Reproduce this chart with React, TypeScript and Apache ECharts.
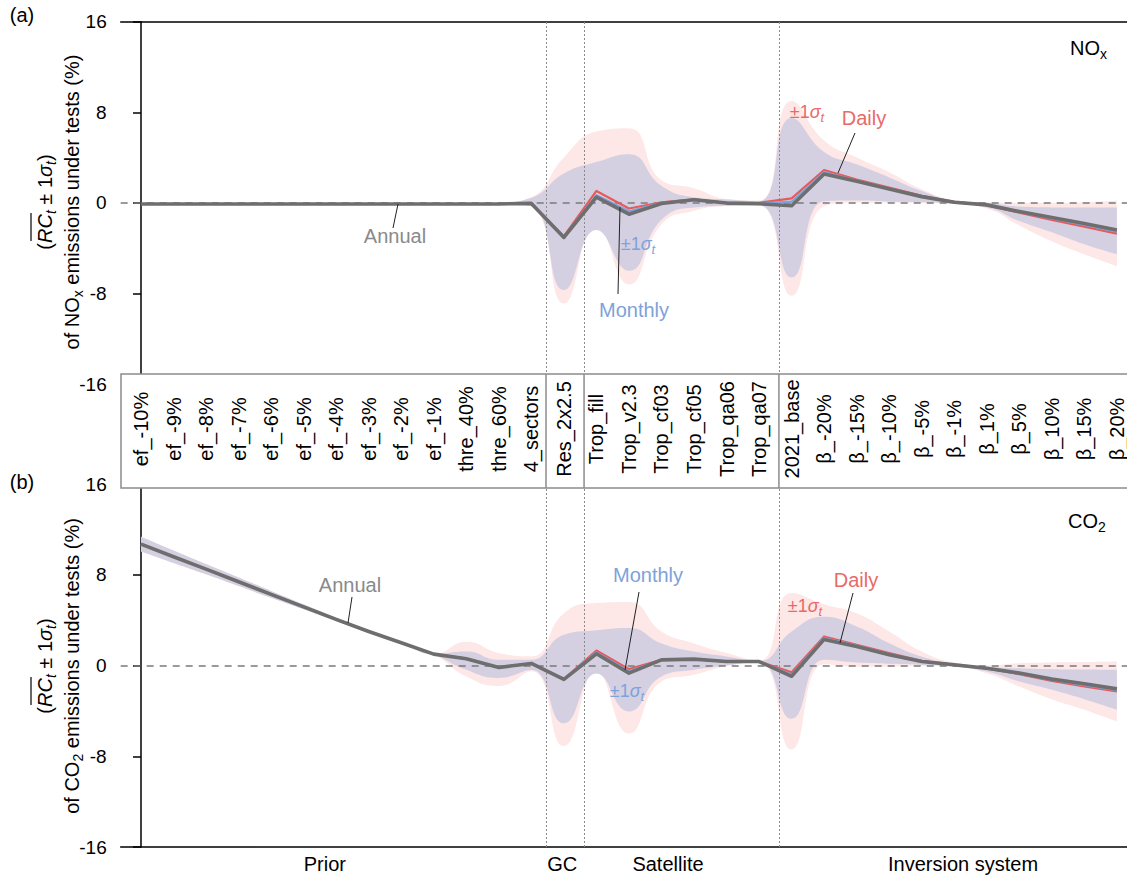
import React, { useEffect, useRef } from "react";
import * as echarts from "echarts";

// ---------------- data ----------------
const CATEGORIES = [
  "ef_-10%", "ef_-9%", "ef_-8%", "ef_-7%", "ef_-6%", "ef_-5%", "ef_-4%", "ef_-3%", "ef_-2%", "ef_-1%",
  "thre_40%", "thre_60%", "4_sectors", "Res_2x2.5", "Trop_fill", "Trop_v2.3", "Trop_cf03", "Trop_cf05",
  "Trop_qa06", "Trop_qa07", "2021_base", "β_-20%", "β_-15%", "β_-10%", "β_-5%", "β_-1%", "β_1%",
  "β_5%", "β_10%", "β_15%", "β_20%",
];
const Y_TICKS = [-16, -8, 0, 8, 16];
const GROUP_LABELS = ["Prior", "GC", "Satellite", "Inversion system"];

// Panel (a) NOx
const NOX_ANNUAL = [-0.1, -0.1, -0.1, -0.1, -0.1, -0.1, -0.1, -0.1, -0.1, -0.1, -0.1, -0.1, -0.05, -3.05, 0.5, -1.0, -0.05, 0.28, -0.02, -0.08, -0.25, 2.55, 1.9, 1.22, 0.55, 0.05, -0.18, -0.77, -1.3, -1.83, -2.39];
const NOX_MONTHLY = [-0.1, -0.1, -0.1, -0.1, -0.1, -0.1, -0.1, -0.1, -0.1, -0.1, -0.1, -0.1, -0.05, -3.0, 0.68, -0.75, 0.0, 0.3, 0.0, -0.05, 0.1, 2.7, 1.97, 1.28, 0.58, 0.06, -0.19, -0.8, -1.38, -1.95, -2.55];
const NOX_DAILY = [-0.1, -0.1, -0.1, -0.1, -0.1, -0.1, -0.1, -0.1, -0.1, -0.1, -0.1, -0.1, -0.05, -2.95, 1.05, -0.5, 0.05, 0.3, 0.0, 0.0, 0.4, 2.9, 2.05, 1.36, 0.62, 0.08, -0.2, -0.86, -1.5, -2.1, -2.72];
const NOX_MONTHLY_HI = [-0.1, -0.1, -0.1, -0.1, -0.1, -0.1, -0.1, -0.1, -0.1, -0.1, -0.1, 0, 0.45, 2.6, 3.6, 4.3, 1.5, 0.5, 0.3, 0.15, 7.5, 4.5, 3.4, 2.25, 1.05, 0.2, 0.0, -0.33, -0.4, -0.4, -0.4];
const NOX_MONTHLY_LO = [-0.1, -0.1, -0.1, -0.1, -0.1, -0.1, -0.1, -0.1, -0.1, -0.1, -0.1, -0.1, -0.3, -7.7, -2.4, -6.0, -1.5, -0.4, -0.25, -0.2, -6.6, 0.15, 0.2, 0.1, 0.05, -0.1, -0.4, -1.6, -2.6, -3.66, -4.55];
const NOX_DAILY_HI = [-0.1, -0.1, -0.1, -0.1, -0.1, -0.1, -0.1, -0.1, -0.1, -0.1, -0.1, 0, 0.5, 4.0, 6.3, 6.6, 2.0, 1.3, 0.35, 0.2, 9.0, 5.5, 4.0, 2.7, 1.2, 0.25, 0.05, 0.0, 0.0, 0.05, 0.18];
const NOX_DAILY_LO = [-0.1, -0.1, -0.1, -0.1, -0.1, -0.1, -0.1, -0.1, -0.1, -0.1, -0.1, -0.1, -0.35, -8.9, -1.9, -7.2, -1.9, -0.7, -0.3, -0.25, -8.2, -0.3, 0.0, 0.0, 0.0, -0.1, -0.5, -2.0, -3.4, -4.55, -5.6];

// Panel (b) CO2
const CO2_ANNUAL = [10.7, 9.59, 8.49, 7.38, 6.27, 5.17, 4.06, 3.0, 2.0, 1.0, 0.6, -0.17, 0.18, -1.22, 1.03, -0.67, 0.5, 0.56, 0.35, 0.35, -0.95, 2.3, 1.68, 0.94, 0.35, 0.06, -0.24, -0.67, -1.2, -1.61, -2.06];
const CO2_MONTHLY = [10.7, 9.59, 8.49, 7.38, 6.27, 5.17, 4.06, 3.0, 2.0, 1.0, 0.6, -0.17, 0.18, -1.2, 1.15, -0.5, 0.5, 0.56, 0.35, 0.35, -0.8, 2.42, 1.75, 1.0, 0.38, 0.06, -0.25, -0.72, -1.28, -1.73, -2.17];
const CO2_DAILY = [10.7, 9.59, 8.49, 7.38, 6.27, 5.17, 4.06, 3.0, 2.0, 1.0, 0.6, -0.17, 0.18, -1.2, 1.32, -0.32, 0.5, 0.56, 0.35, 0.35, -0.6, 2.56, 1.83, 1.09, 0.41, 0.06, -0.26, -0.76, -1.35, -1.85, -2.29];
const CO2_MONTHLY_HI = [11.35, 10.14, 8.94, 7.76, 6.57, 5.39, 4.21, 3.08, 2.03, 1.0, 1.23, 0.5, 0.5, 2.7, 3.1, 3.3, 1.95, 1.23, 0.8, 0.4, 3.0, 4.3, 3.44, 1.97, 0.79, 0.15, -0.1, -0.24, -0.32, -0.35, -0.38];
const CO2_MONTHLY_LO = [10.05, 9.04, 8.04, 7.0, 5.97, 4.95, 3.91, 2.92, 1.97, 1.0, -0.38, -1.1, -0.4, -5.1, -0.7, -4.05, -0.97, -0.38, 0.0, 0.3, -4.7, 0.5, 0.26, 0.15, 0.05, -0.1, -0.53, -1.41, -2.14, -2.97, -3.9];
const CO2_DAILY_HI = [11.35, 10.14, 8.94, 7.76, 6.57, 5.39, 4.21, 3.08, 2.03, 1.0, 2.1, 1.1, 0.8, 4.6, 5.5, 5.6, 3.0, 1.95, 1.1, 0.42, 6.4, 5.4, 4.6, 3.0, 1.23, 0.26, 0.0, 0.2, 0.26, 0.3, 0.35];
const CO2_DAILY_LO = [10.05, 9.04, 8.04, 7.0, 5.97, 4.95, 3.91, 2.92, 1.97, 1.0, -0.97, -1.8, -0.5, -7.1, -0.6, -6.0, -1.4, -0.82, -0.05, 0.3, -7.4, 0.1, -0.1, -0.1, -0.05, -0.1, -0.68, -1.85, -2.97, -3.9, -4.93];

// ---------------- layout / style ----------------
const W = 1127;
const H = 878;
const FONT = '"Liberation Sans", Arial, Helvetica, sans-serif';
const PX = 32.53;
const GRID_LEFT = 120.7;
const FIRST_X = 141;
const X_MIN = -(FIRST_X - GRID_LEFT) / PX;
const GRID_W = W - GRID_LEFT;
const X_MAX = X_MIN + GRID_W / PX;
const SEPARATORS = [12.45, 13.62, 19.61];
const GROUP_CENTERS = [5.65, 12.95, 16.2, 25.27];
const BOX = { x: 121, y: 374, h: 114 };

const C = {
  annual: "#6e6e6e",
  monthly: "#7ea2da",
  daily: "#e85a5a",
  lav: "#d4d0e2",
  pink: "#fde7e7",
  annualTxt: "#8a8a8a",
  monthlyTxt: "#7ea2da",
  dailyTxt: "#e86a6a",
};

const richSet = (fs: number, color: string) => {
  const sub = Math.round(fs * 0.7);
  return {
    n: { fontSize: fs, fontFamily: FONT, fill: color, color, lineHeight: fs + 6 },
    i: { fontSize: fs, fontFamily: FONT, fontStyle: "italic", fill: color, color, lineHeight: fs + 6 },
    s: { fontSize: sub, fontFamily: FONT, fill: color, color, lineHeight: sub - 3, verticalAlign: "bottom" },
    si: { fontSize: sub, fontFamily: FONT, fontStyle: "italic", fill: color, color, lineHeight: sub - 3, verticalAlign: "bottom" },
  };
};

let _ctx: CanvasRenderingContext2D | null = null;
const measure = (t: string, f: string) => {
  if (!_ctx) _ctx = document.createElement("canvas").getContext("2d");
  _ctx!.font = f;
  return _ctx!.measureText(t).width;
};

// band = stacked pair (lower, upper-lower); value column first so it is the stacked one
function bandSeries(ax: number, lo: number[], hi: number[], color: string, key: string, z: number, withMarks: boolean) {
  const common = {
    type: "line",
    xAxisIndex: ax,
    yAxisIndex: ax,
    stack: key,
    stackStrategy: "all",
    encode: { x: 1, y: 0 },
    smooth: 0.5,
    symbol: "none",
    silent: true,
    lineStyle: { width: 0, opacity: 0 },
    z,
  };
  const s2: any = {
    ...common,
    name: key + "_band",
    data: hi.map((v, i) => [+(v - lo[i]).toFixed(4), i]),
    areaStyle: { color, opacity: 1 },
  };
  if (withMarks) {
    s2.markLine = {
      silent: true,
      z: 2.5,
      symbol: ["none", "none"],
      label: { show: false },
      data: [
        { yAxis: 0, lineStyle: { type: [7, 6], color: "#7a7a7a", width: 1.5 } },
        ...SEPARATORS.map((v) => ({ xAxis: v, lineStyle: { type: [2, 2], color: "#8a8a8a", width: 1 } })),
      ],
    };
  }
  return [{ ...common, name: key + "_lo", data: lo.map((v, i) => [v, i]) }, s2];
}

function lineSeries(ax: number, vals: number[], color: string, width: number, z: number, name: string) {
  return {
    type: "line",
    name,
    xAxisIndex: ax,
    yAxisIndex: ax,
    data: vals.map((v, i) => [i, v]),
    symbol: "none",
    silent: true,
    lineStyle: { color, width, join: "round" },
    z,
  };
}

function panel(ax: number, d: any) {
  return [
    ...bandSeries(ax, d.dLo, d.dHi, C.pink, "daily" + ax, 1, false),
    ...bandSeries(ax, d.mLo, d.mHi, C.lav, "monthly" + ax, 2, true),
    lineSeries(ax, d.daily, C.daily, 2.2, 6, "Daily"),
    lineSeries(ax, d.monthly, C.monthly, 2.2, 7, "Monthly"),
    lineSeries(ax, d.annual, C.annual, 3.6, 8, "Annual"),
  ];
}

const yAxisBase = (gi: number) => ({
  type: "value",
  gridIndex: gi,
  min: Y_TICKS[0],
  max: Y_TICKS[Y_TICKS.length - 1],
  interval: 8,
  axisLine: { show: true, lineStyle: { color: "#000", width: 1.5 } },
  axisTick: { show: true, inside: false, length: 8, lineStyle: { color: "#000", width: 1.5 } },
  axisLabel: { fontSize: 19, color: "#000", margin: 14, fontFamily: FONT },
  splitLine: { show: false },
});

const xAxisData = (gi: number, position: string) => ({
  type: "value",
  gridIndex: gi,
  min: X_MIN,
  max: X_MAX,
  position,
  axisLine: { show: true, onZero: false, lineStyle: { color: "#000", width: 1.5 } },
  axisTick: { show: false },
  axisLabel: { show: false },
  splitLine: { show: false },
});

function buildOption() {
  return {
    animation: false,
    backgroundColor: "#fff",
    textStyle: { fontFamily: FONT },
    grid: [
      { left: GRID_LEFT, top: 21.7, width: GRID_W, height: 362.3, show: false, outerBoundsMode: "none" },
      { left: GRID_LEFT, top: 484, width: GRID_W, height: 363, show: false, outerBoundsMode: "none" },
      { left: FIRST_X, top: BOX.y, width: PX * (CATEGORIES.length - 1), height: 55, show: false, outerBoundsMode: "none" },
    ],
    xAxis: [
      xAxisData(0, "top"),
      xAxisData(1, "bottom"),
      {
        type: "category",
        gridIndex: 2,
        data: CATEGORIES,
        boundaryGap: false,
        position: "bottom",
        z: 200,
        axisLine: { show: false },
        axisTick: { show: false },
        axisLabel: {
          interval: 0,
          rotate: 90,
          align: "center",
          verticalAlign: "middle",
          margin: 0,
          fontSize: 20,
          color: "#000",
          fontFamily: FONT,
        },
      },
    ],
    yAxis: [yAxisBase(0), yAxisBase(1), { type: "value", gridIndex: 2, show: false }],
    series: [
      ...panel(0, { annual: NOX_ANNUAL, monthly: NOX_MONTHLY, daily: NOX_DAILY, mLo: NOX_MONTHLY_LO, mHi: NOX_MONTHLY_HI, dLo: NOX_DAILY_LO, dHi: NOX_DAILY_HI }),
      ...panel(1, { annual: CO2_ANNUAL, monthly: CO2_MONTHLY, daily: CO2_DAILY, mLo: CO2_MONTHLY_LO, mHi: CO2_MONTHLY_HI, dLo: CO2_DAILY_LO, dHi: CO2_DAILY_HI }),
    ],
  };
}

function txt(x: number, y: number, text: string, fs: number, color: string, align = "center", rotation = 0) {
  return {
    type: "text",
    x,
    y,
    rotation,
    z: 120,
    style: {
      text,
      align,
      verticalAlign: "middle",
      fill: color,
      fontSize: fs,
      fontFamily: FONT,
      rich: richSet(fs, color),
    },
  };
}

function leader(x1: number, y1: number, x2: number, y2: number) {
  return { type: "line", z: 120, shape: { x1, y1, x2, y2 }, style: { stroke: "#222", lineWidth: 1 } };
}

function yTitle(cx1: number, cx2: number, cy: number, line2: string) {
  const fs = 20;
  const sub = Math.round(fs * 0.7);
  const nf = `${fs}px ${FONT}`;
  const itf = `italic ${fs}px ${FONT}`;
  const sif = `italic ${sub}px ${FONT}`;
  const wOpen = measure("(", nf);
  const wRC = measure("RC", itf);
  const wT = measure("t", sif);
  const wPm = measure(" ± 1", nf);
  const wSig = measure("σ", itf);
  const wClose = measure(")", nf);
  const total = wOpen + wRC + wT + wPm + wSig + wT + wClose;
  const x0 = -total / 2;
  return [
    {
      type: "group",
      x: cx1,
      y: cy,
      rotation: Math.PI / 2,
      children: [
        {
          type: "text",
          z: 120,
          style: {
            text: "{n|(}{i|RC}{si|t}{n| ± 1}{i|σ}{si|t}{n|)}",
            align: "center",
            verticalAlign: "middle",
            fill: "#000",
            fontSize: fs,
            fontFamily: FONT,
            rich: richSet(fs, "#000"),
          },
        },
        {
          type: "line",
          z: 120,
          shape: { x1: x0 + wOpen + 2, y1: -14, x2: x0 + wOpen + wRC + 1, y2: -14 },
          style: { stroke: "#000", lineWidth: 1.2 },
        },
      ],
    },
    txt(cx2, cy, line2, fs, "#000", "center", Math.PI / 2),
  ];
}

function buildGraphics(chart: any) {
  const px = (v: number) => chart.convertToPixel({ xAxisIndex: 0 }, v) as number;
  const sigma = "{n|±1}{i|σ}{si|t}";
  const g: any[] = [];
  // label box
  g.push({
    type: "rect",
    z: 100,
    shape: { x: BOX.x, y: BOX.y, width: W + 20 - BOX.x, height: BOX.h },
    style: { fill: "#fff", stroke: "#8c8c8c", lineWidth: 1.5 },
  });
  SEPARATORS.forEach((v) => {
    const x = px(v);
    g.push({ type: "line", z: 110, shape: { x1: x, y1: BOX.y, x2: x, y2: BOX.y + BOX.h }, style: { stroke: "#8c8c8c", lineWidth: 1.5 } });
  });
  // panel letters
  g.push(txt(22, 15, "{n|(a)}", 20, "#000"));
  g.push(txt(22, 482, "{n|(b)}", 20, "#000"));
  // species
  g.push(txt(1070, 48, "{n|NO}{s|x}", 20, "#000", "left"));
  g.push(txt(1068, 521, "{n|CO}{s|2}", 20, "#000", "left"));
  // y titles
  g.push(...yTitle(45, 72, 202, "{n|of NO}{s|x}{n| emissions under tests (%)}"));
  g.push(...yTitle(45, 72, 666, "{n|of CO}{s|2}{n| emissions under tests (%)}"));
  // annotations panel (a)
  g.push(txt(395, 236, "{n|Annual}", 20, C.annualTxt));
  g.push(txt(634, 310, "{n|Monthly}", 20, C.monthlyTxt));
  g.push(txt(864, 118, "{n|Daily}", 20, C.dailyTxt));
  g.push(txt(807, 112, sigma, 18, C.dailyTxt));
  g.push(txt(638, 244, sigma, 18, C.monthlyTxt));
  g.push(leader(398, 204, 393, 228));
  g.push(leader(620, 207, 618, 294));
  g.push(leader(855, 133, 838, 173));
  // annotations panel (b)
  g.push(txt(350, 585, "{n|Annual}", 20, C.annualTxt));
  g.push(txt(648, 575, "{n|Monthly}", 20, C.monthlyTxt));
  g.push(txt(856, 580, "{n|Daily}", 20, C.dailyTxt));
  g.push(txt(805, 606, sigma, 18, C.dailyTxt));
  g.push(txt(627, 691, sigma, 18, C.monthlyTxt));
  g.push(leader(352, 597, 348, 623));
  g.push(leader(639, 592, 625, 670));
  g.push(leader(853, 593, 840, 643));
  // group labels
  GROUP_LABELS.forEach((name, i) => {
    g.push(txt(px(GROUP_CENTERS[i]), 864, `{n|${name}}`, 20, "#000"));
  });
  return g;
}

export default function App() {
  const ref = useRef<HTMLDivElement>(null);
  useEffect(() => {
    const el = ref.current;
    if (!el) return;
    const chart = echarts.init(el, undefined, { renderer: "svg", width: W, height: H });
    chart.setOption(buildOption() as any);
    chart.setOption({ graphic: buildGraphics(chart) } as any);
    return () => chart.dispose();
  }, []);
  return (
    <div
      ref={ref}
      style={{ position: "fixed", left: 0, top: 0, width: W, height: H, background: "#fff" }}
    />
  );
}
